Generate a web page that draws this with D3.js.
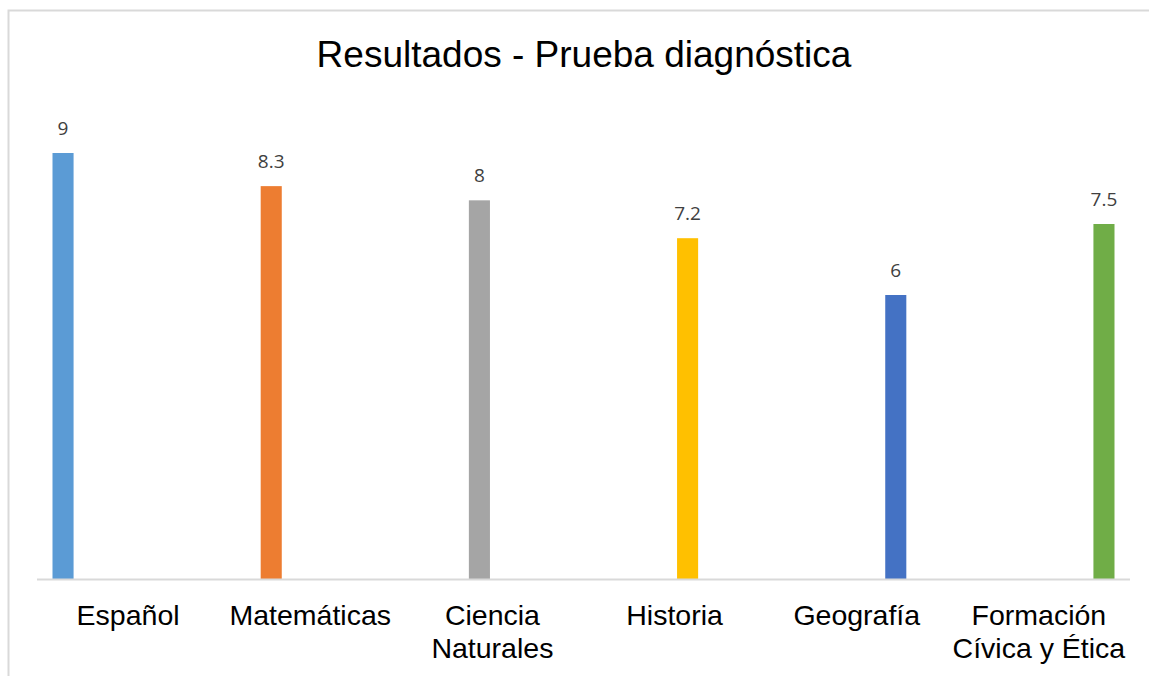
<!DOCTYPE html>
<html>
<head>
<meta charset="utf-8">
<script src="https://cdn.jsdelivr.net/npm/d3@7"></script>
<style>
  body { margin: 0; background: #fff; }
  svg { display: block; }
</style>
</head>
<body>
<div id="chart"></div>
<script>
// materias y resultados
var categories = ["Español", "Matemáticas", "Ciencia Naturales", "Historia", "Geografía", "Formación Cívica y Ética"];
var labelLines = [["Español"], ["Matemáticas"], ["Ciencia", "Naturales"], ["Historia"], ["Geografía"], ["Formación", "Cívica y Ética"]];
var values = [9, 8.3, 8, 7.2, 6, 7.5];
var colors = ["#5b9bd5", "#ed7d31", "#a5a5a5", "#ffc000", "#4472c4", "#70ad47"];

var width = 1149, height = 676;
var margin = {left: 37, right: 19, top: 153, bottom: 97};

var svg = d3.select("#chart").append("svg")
  .attr("width", width)
  .attr("height", height);

// marco del grafico
svg.append("rect")
  .attr("x", 8.5).attr("y", 10.5)
  .attr("width", 1160).attr("height", 700)
  .attr("fill", "none")
  .attr("stroke", "#d9d9d9")
  .attr("stroke-width", 2);

svg.append("text")
  .attr("x", 584)
  .attr("y", 67)
  .attr("text-anchor", "middle")
  .style("font-family", "'Liberation Sans', Arial, sans-serif")
  .style("font-size", "37px")
  .style("fill", "#000")
  .text("Resultados - Prueba diagnóstica");

var x0 = d3.scaleBand()
  .domain(categories)
  .range([margin.left, width - margin.right]);

// cada materia es su propia serie, como en el grafico agrupado original
var x1 = d3.scaleBand()
  .domain(categories)
  .range([15.5, x0.bandwidth() - 15.5])
  .paddingInner(0.19);

var y = d3.scaleLinear()
  .domain([0, 9])
  .range([height - margin.bottom, margin.top]);

var data = categories.map(function(c, i) {
  return {cat: c, val: values[i], color: colors[i], lines: labelLines[i]};
});

svg.selectAll("rect.bar")
  .data(data)
  .enter().append("rect")
  .attr("class", "bar")
  .attr("x", function(d) { return x0(d.cat) + x1(d.cat); })
  .attr("y", function(d) { return y(d.val); })
  .attr("width", x1.bandwidth())
  .attr("height", function(d) { return y(0) - y(d.val); })
  .style("fill", function(d) { return d.color; });

svg.selectAll("text.val")
  .data(data)
  .enter().append("text")
  .attr("class", "val")
  .attr("x", function(d) { return x0(d.cat) + x1(d.cat) + x1.bandwidth() / 2; })
  .attr("y", function(d) { return y(d.val) - 18.5; })
  .attr("text-anchor", "middle")
  .style("font-family", "'Open Sans', 'DejaVu Sans', sans-serif")
  .style("font-size", "19px")
  .style("fill", "#404040")
  .text(function(d) { return d.val; });

// eje x
svg.append("line")
  .attr("x1", margin.left).attr("x2", width - margin.right)
  .attr("y1", y(0) + 0.5).attr("y2", y(0) + 0.5)
  .attr("stroke", "#d9d9d9")
  .attr("stroke-width", 2);

var lab = svg.selectAll("text.cat")
  .data(data)
  .enter().append("text")
  .attr("class", "cat")
  .attr("text-anchor", "middle")
  .style("font-family", "'Liberation Sans', Arial, sans-serif")
  .style("font-size", "28.5px")
  .style("fill", "#000");

lab.selectAll("tspan")
  .data(function(d) { return d.lines.map(function(l) { return {t: l, cx: x0(d.cat) + x0.bandwidth() / 2}; }); })
  .enter().append("tspan")
  .attr("x", function(d) { return d.cx; })
  .attr("y", function(d, i) { return 625 + i * 33; })
  .text(function(d) { return d.t; });
</script>
</body>
</html>
